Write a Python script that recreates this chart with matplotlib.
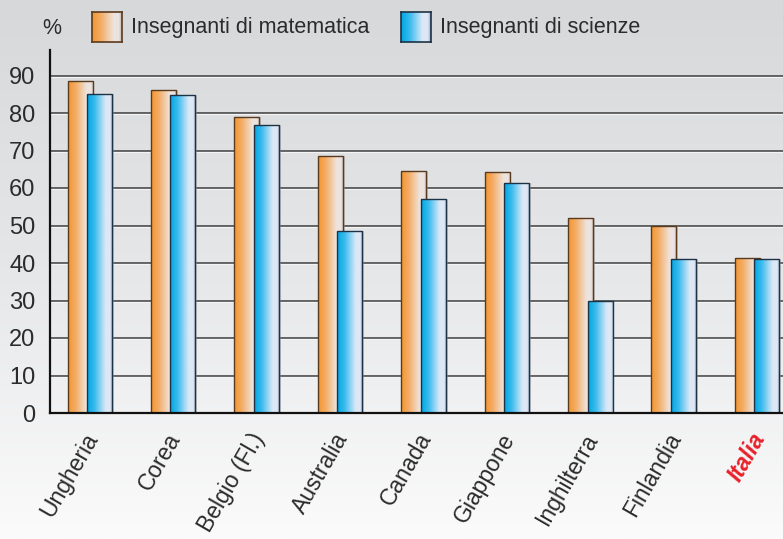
import numpy as np
import matplotlib
matplotlib.use("Agg")
import matplotlib.pyplot as plt
from matplotlib.colors import LinearSegmentedColormap

plt.rcParams['font.family'] = ['Liberation Sans', 'DejaVu Sans']

# Percentuale di insegnanti per paese
paesi = ['Ungheria', 'Corea', 'Belgio (Fl.)', 'Australia', 'Canada',
         'Giappone', 'Inghilterra', 'Finlandia', 'Italia']
matematica = [88.5, 86.1, 78.9, 68.5, 64.5, 64.3, 51.9, 49.9, 41.3]
scienze = [85.0, 84.8, 76.8, 48.5, 57.2, 61.3, 29.9, 41.1, 41.1]
yticks = [0, 10, 20, 30, 40, 50, 60, 70, 80, 90]

TXT = '#2b2b2b'
cmap_mat = LinearSegmentedColormap.from_list(
    'mat', [(0, '#f2962f'), (0.3, '#f4ad66'), (0.72, '#efe3da'),
            (0.9, '#e9e4e6'), (1, '#c7b4a2')])
cmap_sci = LinearSegmentedColormap.from_list(
    'sci', [(0, '#00a6e2'), (0.3, '#3cbcee'), (0.72, '#d9e8f7'),
            (0.9, '#e2e8f3'), (1, '#8eaed0')])

fig = plt.figure(figsize=(7.83, 5.39), dpi=100)

# sfondo sfumato grigio -> bianco
bg = fig.add_axes([0, 0, 1, 1], zorder=-10)
bg.imshow(np.linspace(0, 1, 256).reshape(-1, 1), aspect='auto',
          cmap=LinearSegmentedColormap.from_list('bg', ['#d7d8da', '#e6e7e9', '#fbfbfb']),
          extent=[0, 1, 0, 1], origin='upper')
bg.axis('off')

ax = fig.add_axes([50 / 783, 126 / 539, 1 - 50 / 783, 363 / 539])
ax.set_facecolor('none')

x = np.arange(len(paesi))
w = 0.30
off = 0.117
grad = np.linspace(0, 1, 64).reshape(1, -1)


def gradient_bars(bars, cmap, edge):
    for b in bars:
        x0, y0 = b.get_x(), b.get_y()
        bw, bh = b.get_width(), b.get_height()
        # ombra a destra della barra
        ax.bar(x0 + bw / 2 + 0.022, bh, width=bw, bottom=0, color='#9a9a9a',
               alpha=0.45, zorder=b.get_zorder() - 0.5, linewidth=0)
        im = ax.imshow(grad, cmap=cmap, aspect='auto',
                       extent=[x0, x0 + bw, y0, y0 + bh],
                       zorder=b.get_zorder() - 0.1)
        im.set_clip_path(b)
        b.set_edgecolor(edge)


b1 = ax.bar(x - off, matematica, width=w, facecolor='none', linewidth=1.0, zorder=3)
gradient_bars(b1, cmap_mat, '#5a3a1c')
b2 = ax.bar(x + off, scienze, width=w, facecolor='none', linewidth=1.0, zorder=5)
gradient_bars(b2, cmap_sci, '#1e3246')

# griglia orizzontale con riflesso chiaro
for v in yticks[1:]:
    ax.axhline(v, color='#4a4a4a', linewidth=1.2, zorder=1)
    ax.axhline(v - 0.35, color='#f4f4f4', linewidth=0.8, zorder=1)

ax.set_xlim(-0.477, 8.31)
ax.set_ylim(0, 96.8)
ax.set_yticks(yticks)
ax.set_yticklabels([str(v) for v in yticks], fontsize=17, color=TXT)
ax.tick_params(axis='y', length=0, pad=10.5)
ax.set_xticks(x)
ax.set_xticklabels([])
ax.tick_params(axis='x', length=0)

for s in ['top', 'right']:
    ax.spines[s].set_visible(False)
ax.spines['left'].set_color('#111111')
ax.spines['left'].set_linewidth(1.6)
ax.spines['bottom'].set_color('#111111')
ax.spines['bottom'].set_linewidth(1.6)
ax.spines['left'].set_zorder(6)
ax.spines['bottom'].set_zorder(6)

for i, p in enumerate(paesi):
    if p == 'Italia':
        kw = dict(color='#e8202a', fontweight='bold', fontstyle='italic')
    else:
        kw = dict(color=TXT)
    ax.text(i + 0.03, -5.8, p, rotation=60, rotation_mode='anchor',
            ha='right', va='center', fontsize=16.5, transform=ax.transData,
            clip_on=False, **kw)

# legenda
fig.text(42 / 783, 1 - 28 / 539, '%', fontsize=15.5, color=TXT, va='center')
for (lx, cmap, edge, label) in [(92, cmap_mat, '#5a3a1c', 'Insegnanti di matematica'),
                                (401, cmap_sci, '#1e3246', 'Insegnanti di scienze')]:
    sw = fig.add_axes([lx / 783, 1 - 42 / 539, 30 / 783, 30 / 539])
    sw.imshow(grad, cmap=cmap, aspect='auto', extent=[0, 1, 0, 1])
    sw.set_xticks([])
    sw.set_yticks([])
    for s in sw.spines.values():
        s.set_color(edge)
        s.set_linewidth(1.2)
    fig.text((lx + 39) / 783, 1 - 28 / 539, label, fontsize=15.5, color=TXT,
             va='center')

fig.savefig('out.png', dpi=100)
